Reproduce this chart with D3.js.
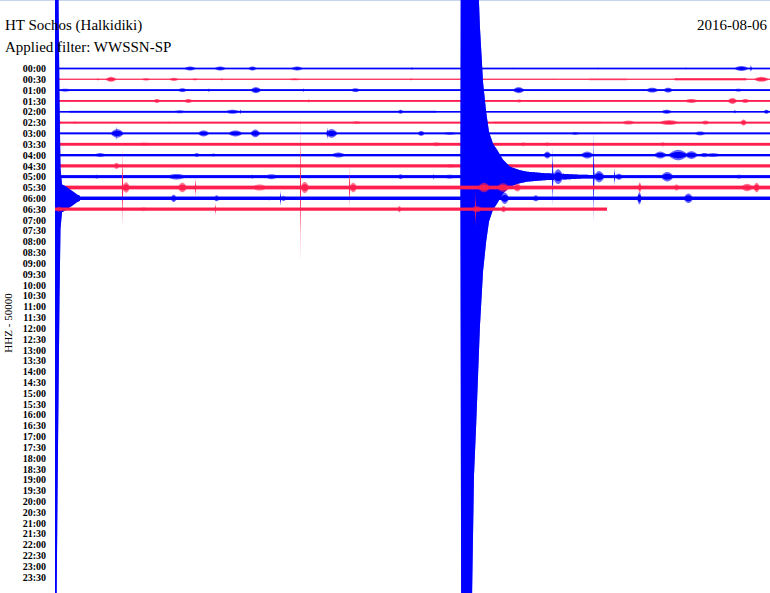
<!DOCTYPE html>
<html><head><meta charset="utf-8">
<script src="https://cdn.jsdelivr.net/npm/d3@7"></script>
<style>
body{margin:0;background:#fff}
svg{display:block}
text{font-family:"Liberation Serif","Times New Roman",serif}
</style>
</head><body>
<svg id="c" width="770" height="593"></svg>
<script>
// ---------- texts ----------
const stationTitle = "HT Sochos (Halkidiki)";
const filterTitle = "Applied filter: WWSSN-SP";
const dateTitle = "2016-08-06";
const channelTitle = "HHZ - 50000";

// ---------- rows (30 min each) ----------
const rowLabels = ["00:00","00:30","01:00","01:30","02:00","02:30","03:00","03:30",
  "04:00","04:30","05:00","05:30","06:00","06:30","07:00","07:30","08:00","08:30",
  "09:00","09:30","10:00","10:30","11:00","11:30","12:00","12:30","13:00","13:30",
  "14:00","14:30","15:00","15:30","16:00","16:30","17:00","17:30","18:00","18:30",
  "19:00","19:30","20:00","20:30","21:00","21:30","22:00","22:30","23:00","23:30"];
const traceColors = ["#0000ff", "#ff1f4f"];   // alternating rows
// minutes of recorded data in each row (rows 0..13)
const rowEnd = [30,30,30,30,30,30,30,30,30,30,30,30,30,23.16];
// background noise half-amplitude per row (kcounts)
const baseNoise = [3.9,2.4,3.9,3.9,3.9,4.3,4.3,6.2,5.2,6.2,6.6,7.6,7.2,6.6];
// noisy stretches: [row, startMin, endMin, amp]
const noiseSegments = [
  [1,22.4,24.0,4.0],[1,26.0,29.0,6.0],[3,19.8,22.3,5.0],[4,0.6,16.0,5.2],
  [5,18.4,22.9,5.2],[7,0,30,6.8],[9,0,30,7.4],[10,0,30,7.4],[11,0,30,8.6],[12,0,30,8.0],
  [13,0,23.16,7.4]
];
// bursts: [row, startMin, peakAmp (kcounts), durationMin]
const bursts = [
  [0,5.37,9.2,0.6],[0,6.63,9.2,0.6],[0,8.06,9.2,0.45],[0,9.86,9.2,0.6],[0,14.9,6,0.15],
  [0,19.2,5.5,0.1],[0,22.75,5.5,0.1],[0,26.44,6,0.1],[0,28.45,11.5,0.7],[0,29.17,16,0.08],
  [1,1.7,4.6,0.2],[1,2.1,11.5,0.5],[1,3.57,5.5,0.5],[1,4.74,7,0.5],[1,5.67,4.6,0.4],
  [1,6.92,4.6,0.15],[1,9.65,4.6,0.8],[1,14.9,6,0.1],[1,20.9,4.6,0.1],[1,22.58,4.6,0.1],
  [1,29.29,11.5,0.7],
  [2,0.13,7,0.6],[2,5.12,9.2,0.45],[2,6.38,7,0.15],[2,8.18,14,0.5],[2,10.4,9.2,0.08],
  [2,12.38,9.2,0.45],[2,19.18,14,0.55],[2,20.48,4.6,0.1],[2,24.76,11.5,0.6],[2,25.5,11.5,0.45],
  [2,28.45,7,0.45],
  [3,4.1,9.2,0.35],[3,5.37,9.2,0.45],[3,10.62,9.2,0.08],[3,15.86,5.5,0.1],[3,19.3,7,0.35],
  [3,26.35,9.2,0.7],[3,28.2,14,0.45],[3,28.74,9.2,0.45],
  [4,4.83,7,0.8],[4,7.05,9.2,0.8],[4,7.76,11.5,0.08],[4,14.35,9.2,0.3],[4,25.39,9.2,0.55],
  [4,28.45,7,0.15],[4,29.7,9.2,0.3],
  [5,0,9.2,0.3],[5,0.63,5.5,0.4],[5,4.7,5.5,0.15],[5,12.38,7,0.55],[5,23.71,9.2,0.7],
  [5,25.26,11.5,1.0],[5,27.07,9.2,0.45],[5,28.74,14,0.3],
  [6,2.31,20,0.6],[6,2.56,32,0.08],[6,5.96,14,0.55],[6,7.22,14,0.7],[6,8.18,18,0.45],
  [6,11.33,20,0.55],[6,11.40,28,0.06],[6,15.19,11.5,0.35],[6,16.16,7,0.8],[6,21.6,7,0.45],
  [6,26.77,9.2,0.6],
  [7,3.15,8,1.2],[7,15.7,9.2,0.6],[7,19.5,9.2,0.3],[7,20.5,9.2,0.3],[7,25.3,9.2,0.4],
  [8,1.6,9.2,0.6],[8,5.8,9.2,0.3],[8,6.5,7,0.3],[8,11.54,11.5,0.7],[8,20.48,16,0.35],
  [8,22.03,16,0.6],[8,25.1,16,0.6],[8,25.7,24,0.9],[8,26.4,18,0.6],[8,27.0,10,0.5],[8,27.2,9,0.8],
  [9,2.43,14,0.3],[9,16.2,9.2,0.8],[9,18.9,9.2,0.4],
  [10,1.6,9.2,0.3],[10,4.6,13,1.0],[10,8.18,9.2,0.2],[10,8.73,11.5,0.7],[10,14.35,11.5,0.3],
  [10,15.86,14,0.08],[10,16.16,9.2,0.8],[10,20.86,138,0.05],[10,20.86,34,0.5],
  [10,22.58,207,0.05],[10,22.58,26,0.5],[10,23.46,41,0.05],[10,23.46,14,0.4],
  [10,25.39,22,0.6],[10,28.45,9.2,0.5],
  [11,0,9.2,0.25],[11,2.81,184,0.05],[11,2.81,24,0.35],[11,5.12,22,0.45],[11,5.87,46,0.05],
  [11,8.18,14,0.8],[11,10.28,345,0.04],[11,10.28,26,0.4],[11,12.34,92,0.05],[11,12.34,22,0.35],
  [11,17.7,22,0.6],[11,18.5,20,0.6],[11,19.2,18,0.4],[11,24.46,23,0.15],[11,25.93,14,0.3],
  [11,28.74,17,0.6],[11,29.29,22,0.3],
  [12,4.83,17,0.3],[12,6.63,14,0.3],[12,8.9,9.2,0.2],[12,9.44,37,0.05],[12,9.44,12,0.3],
  [12,18.67,26,0.4],[12,20.0,14,0.35],[12,24.42,28,0.2],[12,26.35,22,0.45],
  [13,0,11.5,0.35],[13,3.44,9.2,0.55],[13,6.71,28,0.05],[13,14.35,14,0.2],
  [13,17.4,14,0.6],[13,17.62,83,0.05],[13,18.67,14,0.3]
];
// large earthquake envelope read from the record, row 05:00: [minute, amp]
const quakeRow10 = [[17.01,0],[17.04,1980],[17.50,1930],[17.58,1380],[17.67,1150],[17.75,920],
  [17.83,690],[17.96,437],[18.09,300],[18.21,207],[18.38,152],[18.55,124],[18.80,78],
  [19.09,46],[19.51,30],[19.81,23],[20.56,16],[21.19,14],[22.03,9],[22.87,7.5]];
// event at the start of row 06:00
const quakeRow12 = [[0,1980],[0.063,1930],[0.105,1380],[0.147,920],[0.189,460],[0.231,140],
  [0.294,64],[0.46,55],[0.63,41],[0.80,28],[0.92,18],[1.05,11]];
const envelopes = {10: quakeRow10, 12: quakeRow12};

// ---------- layout ----------
const W = 770, H = 593;
const svg = d3.select("#c");
const x = d3.scaleLinear().domain([0,30]).range([55,770]);
const y = d3.scalePoint().domain(rowLabels).range([68.5,577]);
const rowStep = y.step();
const amp = d3.scaleLinear().domain([0,50]).range([0,rowStep]); // 50 kcounts per row spacing

// frame top line
svg.append("line").attr("x1",0).attr("x2",W).attr("y1",0.5).attr("y2",0.5)
  .attr("stroke","#c6d4ee").attr("stroke-width",1);

function burstAmp(b, m){
  const s=b[1], a=b[2], d=b[3];
  if (m < s || m > s+d) return 0;
  if (d <= 0.1) {               // impulsive spike
    const p = s + d*0.3;
    return m <= p ? (p===s ? a : a*(m-s)/(p-s)) : a*(s+d-m)/(s+d-p);
  }
  return a*Math.sin(Math.PI*(m-s)/d);   // wave packet envelope
}
function envAmp(env, m){
  if (!env || m < env[0][0] || m > env[env.length-1][0]) return 0;
  for (let i=1;i<env.length;i++){
    if (m <= env[i][0]){
      const [m0,a0]=env[i-1],[m1,a1]=env[i];
      return a0 + (a1-a0)*(m-m0)/(m1-m0);
    }
  }
  return 0;
}

const traces = svg.append("g");
rowEnd.forEach((end, r) => {
  const rb = bursts.filter(b => b[0]===r);
  const rs = noiseSegments.filter(s => s[0]===r);
  const env = envelopes[r];
  let ms = d3.range(0, end, 1/96).concat([end]);
  rb.forEach(b => { ms.push(b[1], b[1]+b[3]*0.3); });
  if (env) env.forEach(e => ms.push(e[0]));
  ms = ms.filter(m => m>=0 && m<=end).sort((a,b)=>a-b);
  const pts = ms.map(m => {
    let a = baseNoise[r];
    rs.forEach(s => { if (m>=s[1] && m<=s[2]) a = Math.max(a, s[3]); });
    rb.forEach(b => { a = Math.max(a, burstAmp(b, m)); });
    const e = envAmp(env, m);
    const big = e > a;
    a = Math.max(a, e);
    return {m, a, big};
  });
  const cy = y(rowLabels[r]);
  const outer = d3.area().x(d => x(d.m))
    .y0(d => cy + amp(d.a)).y1(d => cy - amp(d.a));
  const core = d => d.big ? d.a : Math.min(d.a, Math.max(d.a*0.6, baseNoise[r]));
  const inner = d3.area().x(d => x(d.m))
    .y0(d => cy + amp(core(d))).y1(d => cy - amp(core(d)));
  const g = traces.append("g").attr("fill", traceColors[r%2]);
  g.append("path").attr("d", outer(pts)).attr("fill-opacity", 0.6);
  g.append("path").attr("d", inner(pts));
});

// row labels
const axis = d3.axisLeft(y).tickSize(0).tickPadding(0);
const ag = svg.append("g").attr("transform","translate(46,0)").call(axis);
ag.select(".domain").remove();
ag.selectAll("text").attr("font-family","'Liberation Serif',serif")
  .attr("font-size",10).attr("font-weight","bold").attr("fill","#000");

// titles
svg.append("text").attr("x",5).attr("y",30).attr("font-size",15).text(stationTitle);
svg.append("text").attr("x",5).attr("y",52).attr("font-size",15).text(filterTitle);
svg.append("text").attr("x",767).attr("y",30).attr("font-size",15)
  .attr("text-anchor","end").text(dateTitle);
svg.append("text").attr("transform","translate(12,323) rotate(-90)")
  .attr("text-anchor","middle").attr("font-size",11).text(channelTitle);
</script>
</body></html>
